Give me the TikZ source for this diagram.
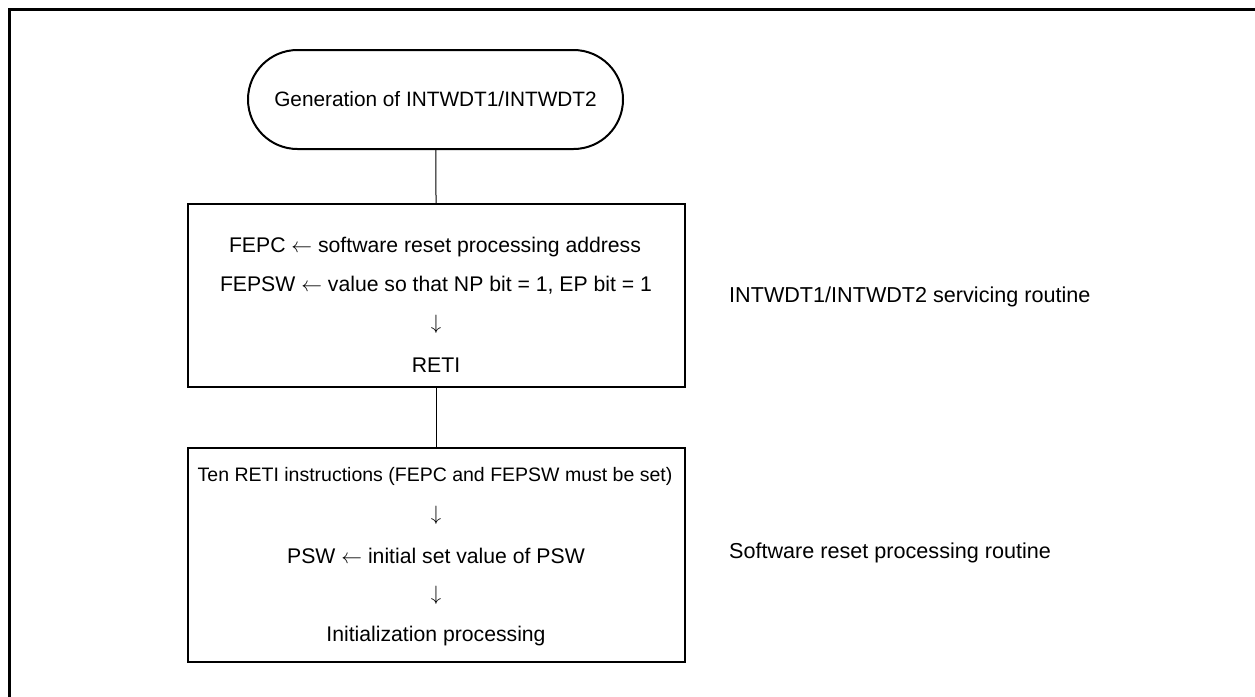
\documentclass[tikz,border=0pt]{standalone}
\usepackage{fontspec}
\setmainfont{Liberation Sans}
\usepackage{tikz}
\usetikzlibrary{positioning, shapes.misc}

\begin{document}
\begin{tikzpicture}[x=1pt, y=-1pt,
  terminal/.style={draw, rounded rectangle, line width=2pt,
                   minimum width=375pt, minimum height=99pt,
                   inner sep=0pt, font=\fontsize{20.8}{24}\selectfont},
  routine/.style={draw, line width=2.4pt, inner sep=0pt,
                  minimum width=497pt},
  txt/.style={font=\fontsize{21.2}{25}\selectfont, inner sep=0pt},
  side/.style={font=\fontsize{21.6}{25}\selectfont, inner sep=0pt, anchor=west},
  link/.style={line width=1pt},
]
  \useasboundingbox (0,0) rectangle (1255,696);
  \draw[line width=3pt] (1300,9) -- (9,9) -- (9,740);

  \node[terminal] (start) at (435.5, 99.5) {Generation of INTWDT1/INTWDT2};
  \node[routine, minimum height=183pt] (isr) at (436.5, 295.5) {};
  \node[routine, minimum height=214pt] (reset) at (436.5, 555) {};

  % servicing routine
  \node[txt] (fepc) at (435, 247) {FEPC $\leftarrow$ software reset processing address};
  \node[txt] (fepsw) at (436, 285) {FEPSW $\leftarrow$ value so that NP bit = 1, EP bit = 1};
  \node[txt] (down1) at (436, 324) {$\downarrow$};
  \node[txt] (reti) at (436, 365) {RETI};

  % software reset
  \node[txt, font=\fontsize{19.5}{23}\selectfont] (ten) at (435, 476) {Ten RETI instructions (FEPC and FEPSW must be set)};
  \node[txt] (down2) at (436, 515) {$\downarrow$};
  \node[txt] (psw) at (436, 556) {PSW $\leftarrow$ initial set value of PSW};
  \node[txt] (down3) at (436, 595) {$\downarrow$};
  \node[txt] (init) at (436, 636) {Initialization processing};

  \node[side] (isrlabel) at (729, 297) {INTWDT1/INTWDT2 servicing routine};
  \node[side] (resetlabel) at (729, 553) {Software reset processing routine};

  \draw[link] (start) -- (isr);
  \draw[link] (isr) -- (reset);
\end{tikzpicture}
\end{document}
